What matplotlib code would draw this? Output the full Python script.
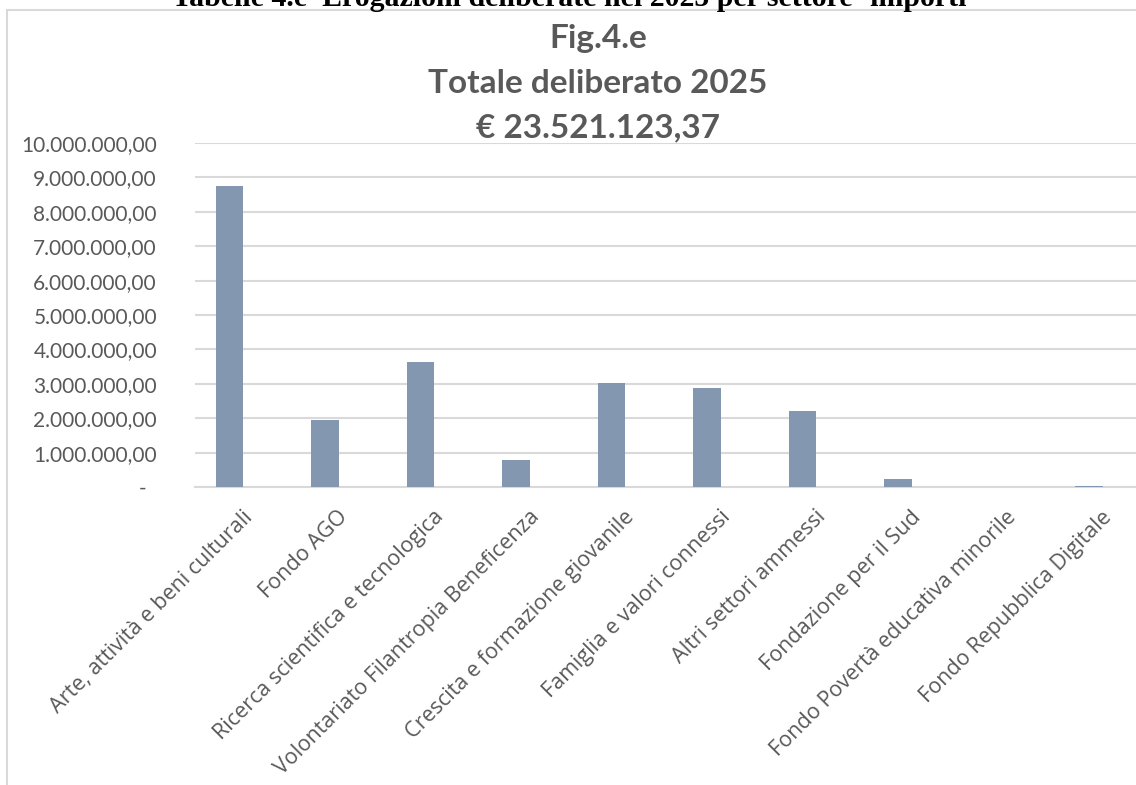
import matplotlib
matplotlib.use("Agg")
import matplotlib.pyplot as plt
import matplotlib.transforms as mtransforms
from matplotlib.patches import Rectangle

categories = [
    "Arte, attività e beni culturali",
    "Fondo AGO",
    "Ricerca scientifica e tecnologica",
    "Volontariato Filantropia Beneficenza",
    "Crescita e formazione giovanile",
    "Famiglia e valori connessi",
    "Altri settori ammessi",
    "Fondazione per il Sud",
    "Fondo Povertà educativa minorile",
    "Fondo Repubblica Digitale",
]
values = [8750000, 1950000, 3630000, 780000, 3020000, 2880000, 2200000, 230000, 0, 40000]
ytick_values = [0, 1e6, 2e6, 3e6, 4e6, 5e6, 6e6, 7e6, 8e6, 9e6, 10e6]
ytick_labels = ["-", "1.000.000,00", "2.000.000,00", "3.000.000,00", "4.000.000,00",
                "5.000.000,00", "6.000.000,00", "7.000.000,00", "8.000.000,00",
                "9.000.000,00", "10.000.000,00"]
title_lines = ["Fig.4.e", "Totale deliberato 2025", "€ 23.521.123,37"]
header = "Tabelle 4.e  Erogazioni deliberate nel 2025 per settore- importi"

TEXT = "#595959"
BAR = "#8497b0"
GRID = "#d9d9d9"

W, H = 1136, 785
fig = plt.figure(figsize=(W / 100, H / 100), dpi=100)
fig.patch.set_facecolor("white")

# outer chart frame
fig.add_artist(Rectangle((7 / W, -0.05), 1.2, 1 - 10 / H + 0.05, transform=fig.transFigure,
                         fill=False, edgecolor=GRID, linewidth=1.5))

# clipped header on top
fig.text(569 / W, 1 - 6 / H, header, ha="center", va="baseline",
         family="Liberation Serif", fontweight="bold", fontsize=21.5, color="black")

ax = fig.add_axes([195 / W, 1 - 487 / H, (W - 195) / W, (487 - 143) / H])
x = list(range(len(categories)))
ax.bar(x, values, width=0.285, color=BAR, zorder=3)
ax.set_xlim(-0.361, 9.492)
ax.set_ylim(0, 10e6)
ax.set_yticks(ytick_values)
ax.set_yticklabels(ytick_labels, family="Lato", fontsize=15, color=TEXT)
ax.set_xticks(x)
ax.set_xticklabels(categories, family="Open Sans", fontsize=15.5, color=TEXT,
                   rotation=45, ha="right", va="center", rotation_mode="anchor")
ax.tick_params(axis="both", length=0)
ax.tick_params(axis="y", pad=27.4)
ax.tick_params(axis="x", pad=0)
ax.grid(axis="y", color=GRID, linewidth=1.5, zorder=0)
ax.set_axisbelow(True)
for s in ["top", "right", "left"]:
    ax.spines[s].set_visible(False)
ax.spines["bottom"].set_color(GRID)
ax.spines["bottom"].set_linewidth(1.5)
ax.patch.set_alpha(0)

off = mtransforms.ScaledTranslation(0.20, -0.27, fig.dpi_scale_trans)
for lab in ax.get_xticklabels():
    lab.set_transform(lab.get_transform() + off)
zoff = mtransforms.ScaledTranslation(-0.11, 0, fig.dpi_scale_trans)
t0 = ax.yaxis.get_major_ticks()[0].label1
t0.set_transform(t0.get_transform() + zoff)

baselines = [48, 93, 137]
for t, yy in zip(title_lines, baselines):
    fig.text(598 / W, 1 - yy / H, t, ha="center", va="baseline", family="Lato",
             fontweight="bold", fontsize=24, color=TEXT)

fig.savefig("out.png", dpi=100)
